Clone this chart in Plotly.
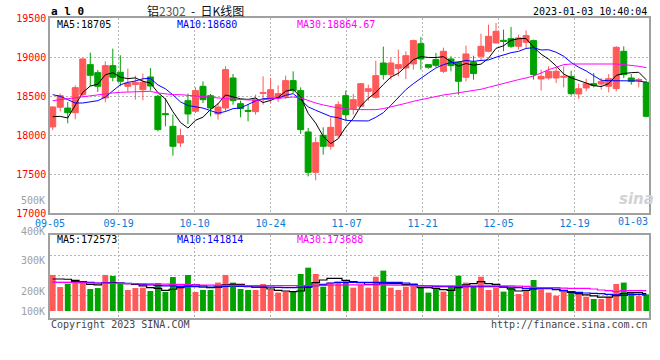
import plotly.graph_objects as go

# ---------------- data ----------------
tick_labels = ["09-05", "09-19", "10-10", "10-24", "11-07", "11-21", "12-05", "12-19"]
last_label = "01-03"

open_ = [18107, 18359, 18350, 18290, 18521, 18906, 18803, 18479, 18893, 18808,
         18628, 18650, 18585, 18748, 18500, 18278, 18115, 17902, 18444, 18308,
         18628, 18508, 18273, 18350, 18735, 18406, 18320, 18303, 18538, 18479,
         18479, 18500, 18701, 18573, 18043, 17525, 18000, 17859, 18000, 18508,
         18342, 18372, 18564, 18487, 18927, 18778, 18855, 18863, 18915, 19175,
         18906, 18970, 18820, 18979, 18936, 18744, 18936, 19013, 19077, 19184,
         19218, 19239, 19141, 19192, 19214, 18722, 18735, 18735, 18744, 18756,
         18530, 18607, 18662, 18658, 18628, 18598, 19077, 18735, 18701, 18679]
high = [18370, 18534, 18427, 18641, 18985, 19060, 18838, 18949, 19111, 19026,
        18855, 18765, 18791, 18863, 18521, 18479, 18265, 18085, 18534, 18615,
        18692, 18530, 18414, 18885, 18786, 18444, 18402, 18521, 18756, 18735,
        18641, 18765, 18820, 18615, 18094, 17974, 18102, 18231, 18436, 18573,
        18530, 18671, 18650, 18957, 19137, 18991, 19098, 19077, 19227, 19261,
        18915, 19056, 19124, 19013, 18949, 19150, 19021, 19303, 19419, 19440,
        19355, 19389, 19291, 19346, 19227, 18842, 18885, 18863, 18885, 18829,
        18662, 18726, 18799, 18735, 18786, 19141, 19141, 18786, 18735, 18701]
low = [18064, 18308, 18154, 18205, 18500, 18628, 18556, 18423, 18692, 18628,
       18556, 18457, 18449, 18573, 18051, 18115, 17739, 17850, 18145, 18286,
       18414, 18243, 18201, 18308, 18393, 18231, 18179, 18265, 18393, 18414,
       18427, 18466, 18543, 18017, 17474, 17423, 17752, 17816, 17966, 18188,
       18265, 18359, 18444, 18470, 18714, 18714, 18756, 18722, 18842, 18842,
       18855, 18872, 18799, 18820, 18521, 18692, 18714, 18962, 19064, 19175,
       19077, 19120, 19098, 19120, 18714, 18573, 18714, 18671, 18615, 18508,
       18466, 18564, 18615, 18585, 18551, 18564, 18735, 18650, 18615, 18231]
close = [18363, 18508, 18290, 18611, 18979, 18769, 18628, 18893, 18744, 18692,
         18671, 18679, 18679, 18632, 18073, 18265, 17859, 17996, 18273, 18573,
         18457, 18350, 18363, 18842, 18444, 18342, 18308, 18457, 18547, 18585,
         18534, 18701, 18573, 18073, 17525, 17906, 17859, 18102, 18393, 18265,
         18457, 18662, 18598, 18765, 18778, 18927, 18906, 19021, 19214, 18979,
         18872, 18897, 19077, 18893, 18692, 19043, 18791, 19141, 19269, 19333,
         19205, 19141, 19248, 19278, 18778, 18756, 18820, 18820, 18756, 18534,
         18598, 18662, 18637, 18692, 18726, 19128, 18778, 18692, 18714, 18243]

ma5 = [18239, 18243, 18222, 18384, 18550, 18631, 18655, 18776, 18803, 18745,
       18726, 18736, 18693, 18671, 18547, 18466, 18302, 18165, 18093, 18193,
       18232, 18330, 18403, 18517, 18491, 18468, 18460, 18479, 18420, 18448,
       18486, 18565, 18588, 18493, 18281, 18156, 17987, 17893, 17957, 18105,
       18215, 18376, 18475, 18549, 18652, 18746, 18795, 18879, 18969, 19009,
       18998, 18997, 19008, 18944, 18886, 18920, 18899, 18912, 18987, 19115,
       19148, 19218, 19239, 19241, 19130, 19040, 18976, 18890, 18786, 18737,
       18706, 18674, 18637, 18625, 18663, 18769, 18792, 18803, 18808, 18711]
ma10 = [18521, 18500, 18457, 18414, 18414, 18427, 18444, 18491, 18568, 18648,
        18679, 18696, 18725, 18730, 18646, 18596, 18519, 18429, 18382, 18370,
        18349, 18316, 18284, 18305, 18342, 18350, 18395, 18441, 18469, 18470,
        18477, 18513, 18534, 18457, 18365, 18321, 18276, 18241, 18225, 18193,
        18186, 18182, 18184, 18231, 18290, 18384, 18487, 18585, 18662, 18735,
        18799, 18863, 18906, 18932, 18940, 18959, 18948, 18960, 18966, 19001,
        19034, 19059, 19076, 19114, 19123, 19094, 19097, 19065, 19014, 18934,
        18873, 18825, 18764, 18706, 18700, 18702, 18700, 18698, 18695, 18680]
ma30 = [18444, 18457, 18466, 18479, 18491, 18500, 18513, 18530, 18543, 18551,
        18555, 18564, 18568, 18564, 18543, 18530, 18521, 18521, 18513, 18508,
        18504, 18496, 18479, 18470, 18466, 18457, 18449, 18449, 18457, 18466,
        18479, 18487, 18491, 18479, 18444, 18414, 18389, 18367, 18350, 18337,
        18329, 18329, 18329, 18329, 18342, 18363, 18384, 18410, 18436, 18457,
        18479, 18496, 18517, 18530, 18543, 18555, 18573, 18590, 18615, 18641,
        18671, 18692, 18714, 18735, 18761, 18799, 18842, 18872, 18906, 18914,
        18914, 18919, 18919, 18919, 18914, 18914, 18906, 18897, 18885, 18867]

volume = [292000, 194000, 219000, 238000, 238000, 178000, 186000, 292000, 284000, 219000,
          170000, 186000, 189000, 162000, 227000, 154000, 275000, 208000, 292000, 154000,
          170000, 170000, 230000, 292000, 230000, 178000, 170000, 170000, 219000, 170000,
          149000, 157000, 157000, 300000, 351000, 300000, 197000, 230000, 238000, 240000,
          189000, 211000, 189000, 278000, 327000, 189000, 170000, 197000, 219000, 197000,
          149000, 189000, 157000, 197000, 286000, 230000, 197000, 278000, 170000, 189000,
          157000, 189000, 138000, 170000, 251000, 192000, 149000, 124000, 157000, 157000,
          138000, 116000, 97000, 97000, 111000, 219000, 230000, 143000, 124000, 135000]
vma5 = [259000, 259000, 257000, 248000, 235000, 216000, 211000, 230000, 230000, 227000,
        221000, 216000, 203000, 189000, 184000, 167000, 176000, 189000, 203000, 211000,
        203000, 189000, 194000, 211000, 216000, 216000, 205000, 194000, 194000, 178000,
        167000, 162000, 157000, 162000, 194000, 230000, 251000, 265000, 265000, 248000,
        238000, 230000, 216000, 216000, 227000, 221000, 221000, 216000, 216000, 189000,
        189000, 184000, 173000, 167000, 189000, 211000, 221000, 238000, 221000, 216000,
        194000, 178000, 162000, 167000, 178000, 189000, 184000, 173000, 162000, 151000,
        140000, 130000, 122000, 113000, 113000, 124000, 140000, 149000, 149000, 140000]
vma10 = [232000, 232000, 232000, 238000, 238000, 232000, 227000, 230000, 227000, 227000,
         224000, 221000, 216000, 211000, 205000, 203000, 203000, 200000, 200000, 197000,
         194000, 194000, 194000, 200000, 203000, 200000, 197000, 194000, 194000, 194000,
         192000, 189000, 189000, 194000, 200000, 205000, 216000, 227000, 232000, 232000,
         232000, 232000, 232000, 232000, 232000, 232000, 232000, 227000, 216000, 205000,
         203000, 200000, 197000, 197000, 197000, 197000, 197000, 197000, 197000, 197000,
         197000, 194000, 189000, 184000, 184000, 184000, 181000, 178000, 167000, 157000,
         151000, 146000, 143000, 140000, 135000, 130000, 127000, 135000, 135000, 130000]
vma30 = [232000, 231000, 230000, 229000, 228000, 227000, 226000, 225000, 224000, 223000,
         222000, 221000, 220000, 219000, 218000, 217000, 216000, 215000, 213000, 211000,
         210000, 209000, 208000, 208000, 207000, 207000, 206000, 206000, 205000, 205000,
         205000, 205000, 205000, 205000, 206000, 207000, 208000, 209000, 210000, 211000,
         211000, 211000, 211000, 211000, 211000, 210000, 209000, 208000, 205000, 204000,
         203000, 203000, 203000, 203000, 203000, 203000, 203000, 203000, 203000, 203000,
         203000, 203000, 202000, 200000, 192000, 189000, 189000, 189000, 186000, 184000,
         184000, 183000, 178000, 170000, 165000, 157000, 165000, 165000, 165000, 165000]

price_ticks = [17000, 17500, 18000, 18500, 19000, 19500]
vol_labels = ["500K", "400K", "300K", "200K", "100K"]
legend_main = ["MA5:18705", "MA10:18680", "MA30:18864.67"]
legend_vol = ["MA5:172573", "MA10:141814", "MA30:173688"]

# ---------------- layout helpers ----------------
W, H = 660, 360
ML, MR, MT, MB = 50, 11, 18, 42
PW, PH = W - ML - MR, H - MT - MB
C0, STEP = 52.7, 7.514          # pixel of first candle centre, candle spacing


def px2x(p):
    return (p - C0) / STEP


def pxp(x):
    return (x - ML) / PW


def pyp(y):
    return (H - MB - y) / PH


RED = "#ff5959"
GREEN = "#00a200"
GRID = "#b4b4b4"
BORDER = "#a0a0a0"
MONO = "DejaVu Sans Mono"

idx = list(range(len(close)))
x_range = [px2x(ML), px2x(W - MR)]
grid_x = [px2x(ML)] + [px2x(118.6 + 76 * j) for j in range(7)]

fig = go.Figure()
fig.add_trace(go.Candlestick(
    x=idx, open=open_, high=high, low=low, close=close,
    increasing=dict(line=dict(color=RED, width=1), fillcolor=RED),
    decreasing=dict(line=dict(color=GREEN, width=1), fillcolor=GREEN),
    whiskerwidth=0, xaxis="x", yaxis="y", hoverinfo="skip"))
for vals, col in [(ma5, "#000000"), (ma10, "#0000ff"), (ma30, "#ff00ff")]:
    fig.add_trace(go.Scatter(x=idx, y=vals, mode="lines",
                             line=dict(color=col, width=1), xaxis="x", yaxis="y",
                             hoverinfo="skip"))

bar_colors = [RED if c >= o else GREEN for o, c in zip(open_, close)]
fig.add_trace(go.Bar(x=idx, y=volume, marker=dict(color=bar_colors, line=dict(width=0)),
                     xaxis="x2", yaxis="y2", hoverinfo="skip"))
for vals, col in [(vma5, "#000000"), (vma10, "#0000ff"), (vma30, "#ff00ff")]:
    fig.add_trace(go.Scatter(x=idx, y=vals, mode="lines",
                             line=dict(color=col, width=1.2, shape="hvh"),
                             xaxis="x2", yaxis="y2", hoverinfo="skip"))

# volume axis: baseline of bars at pixel 311, 1 px = 8100
VPX = 8100
vol_top_px, vol_bot_px, vol_base_px = 234.7, 318, 311
v_range = [-(vol_bot_px - vol_base_px) * VPX, (vol_base_px - vol_top_px) * VPX]
v_grid = [(vol_base_px - p) * VPX for p in (295, 275, 255)]

axis_common = dict(showline=True, linecolor=BORDER, linewidth=1.5, mirror=True,
                   zeroline=False, ticks="", gridcolor=GRID, griddash="2px,2px",
                   gridwidth=1, automargin=False)

fig.update_layout(
    template="none",
    width=W, height=H, margin=dict(l=ML, r=MR, t=MT, b=MB, autoexpand=False),
    paper_bgcolor="white", plot_bgcolor="white", showlegend=False,
    bargap=0.22, boxgap=0.2, boxgroupgap=0,
    xaxis=dict(domain=[0, 1], range=x_range, anchor="y", tickmode="array",
               tickvals=grid_x, ticktext=tick_labels, showgrid=True,
               tickfont=dict(family=MONO, size=10, color="#0a7ad4"),
               rangeslider=dict(visible=False), **axis_common),
    yaxis=dict(domain=[pyp(213.3), pyp(18.3)], range=[17000, 19500], anchor="x",
               tickmode="array", tickvals=price_ticks,
               ticktext=[str(v) for v in price_ticks], showgrid=True,
               tickfont=dict(family=MONO, size=10, color="#ff0000"), **axis_common),
    xaxis2=dict(domain=[0, 1], range=x_range, anchor="y2", matches="x",
                tickmode="array", tickvals=grid_x, showticklabels=False,
                showgrid=True, **axis_common),
    yaxis2=dict(domain=[0, pyp(vol_top_px)], range=v_range, anchor="x2",
                tickmode="array", tickvals=v_grid, showticklabels=False,
                showgrid=True, **axis_common),
)

ann = []


def text(x, y, s, color="#000", size=10, anchor="left", family=MONO, **kw):
    ann.append(dict(x=pxp(x), y=pyp(y), xref="paper", yref="paper", text=s,
                    showarrow=False, xanchor=anchor, yanchor="middle",
                    font=dict(family=family, size=size, color=color), **kw))


text(49, 11.5, "<b>a l 0</b>", size=11)
text(195, 11, "铝<span style='color:#555'>2302</span>&nbsp; -&nbsp; 日K线图", size=12,
     anchor="center", family="Noto Sans CJK SC", color="#111")
text(649, 12, "2023-01-03 10:40:04", anchor="right")
for lab, xx, col in zip(legend_main, [55, 175, 295], ["#000", "#0000ff", "#ff00ff"]):
    text(xx, 24.5, lab, color=col)
for lab, xx, col in zip(legend_vol, [55, 175, 295], ["#000", "#0000ff", "#ff00ff"]):
    text(xx, 239, lab, color=col)
for lab, yy in zip(vol_labels, [200.5, 231, 260.3, 291, 311.3]):
    text(47, yy, lab, color="#a0a0a0", anchor="right")
text(649.5, 221, last_label, color="#0a7ad4", anchor="right")
text(49, 324, "Copyright 2023 SINA.COM", color="#444")
text(649.5, 324, "http://finance.sina.com.cn", color="#444", anchor="right")
text(636, 199, "<b><i>sina</i></b>", color="#d2d2d2", size=15, anchor="center",
     family="DejaVu Sans")
fig.update_layout(annotations=ann)

fig.write_html("out.html", config={"displayModeBar": False},
               post_script="document.body.style.margin='0px';"
                           "document.body.style.padding='0px';")
